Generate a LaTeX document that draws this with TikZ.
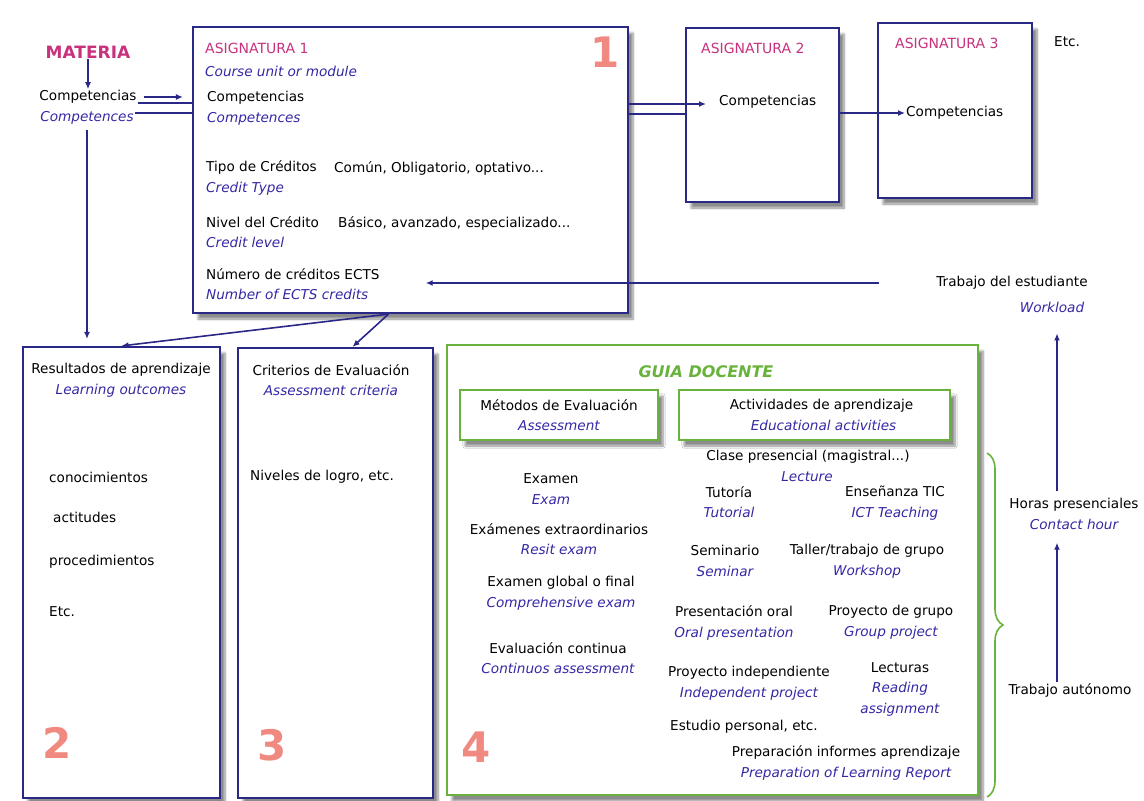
\documentclass[tikz,border=0pt]{standalone}
\usepackage{fontspec}
\setmainfont{DejaVu Sans}
\usepackage{xcolor}
\usetikzlibrary{arrows, arrows.meta}
\usetikzlibrary{calc}
\usetikzlibrary{shadows, shadows.blur}
\usetikzlibrary{decorations, decorations.pathreplacing}

\definecolor{navy}{RGB}{42,40,135}
\definecolor{engblue}{RGB}{52,40,165}
\definecolor{rosa}{RGB}{200,50,125}
\definecolor{numcol}{RGB}{240,138,128}
\definecolor{verde}{RGB}{105,178,60}

\newcommand{\engl}[1]{{\color{engblue}\itshape #1}}

\tikzset{
  caja/.style={draw=navy, line width=2.2pt, fill=white,
    blur shadow={shadow xshift=5pt, shadow yshift=-6pt, shadow blur steps=8, shadow opacity=45}},
  cajav/.style={caja, draw=verde},
  txt/.style={font=\fontsize{13.6}{20.5}\selectfont, inner sep=1pt, align=center},
  izq/.style={txt, align=left, anchor=west},
  tit/.style={text=rosa, font=\fontsize{14}{16}\selectfont, inner sep=1pt, anchor=west},
  num/.style={text=numcol, font=\fontsize{42}{42}\selectfont\bfseries, inner sep=0pt},
  flow/.style={draw=navy, line width=1.6pt, -{Latex[length=7pt, width=6pt]}},
  link/.style={draw=navy, line width=1.6pt},
  llave/.style={draw=verde, line width=1.6pt, decorate, decoration={brace, amplitude=16pt}}
}

\begin{document}
\begin{tikzpicture}[x=1pt, y=-1pt]
    \useasboundingbox (0,0) rectangle (1144,801);

    \node[caja, minimum width=435pt, minimum height=286pt] (asig1) at (410.5,170) {};
    \node[caja, minimum width=153pt, minimum height=174pt] (asig2) at (762.5,115) {};
    \node[caja, minimum width=154pt, minimum height=175pt] (asig3) at (955,110.5) {};
    \node[caja, minimum width=197pt, minimum height=451pt] (resul) at (121.5,572.5) {};
    \node[caja, minimum width=195pt, minimum height=450pt] (crit) at (335.5,573) {};
    \node[cajav, minimum width=531pt, minimum height=450pt] (guia) at (712.5,570) {};

    \node[tit, anchor=center, font=\fontsize{17}{19}\selectfont\bfseries] (materia) at (88,52) {MATERIA};
    \node[txt] (comp0) at (88,97) {Competencias};
    \node[txt] (compe0) at (87,118) {\engl{Competences}};

    \node[tit] (asigt1) at (204,48) {ASIGNATURA 1};
    \node[izq] (course) at (204,71) {\engl{Course unit or module}};
    \node[izq] (comp1) at (206,108) {Competencias\\\engl{Competences}};
    \node[izq] (tipo) at (205,178) {Tipo de Créditos\\\engl{Credit Type}};
    \node[izq] (tipov) at (333,168) {Común, Obligatorio, optativo...};
    \node[izq] (nivel) at (205,232) {Nivel del Crédito\\\engl{Credit level}};
    \node[izq] (nivelv) at (337,223) {Básico, avanzado, especializado...};
    \node[izq] (ects) at (205,284) {Número de créditos ECTS\\\engl{Number of ECTS credits}};
    \node[num] (num1) at (605,52) {1};

    \node[tit] (asigt2) at (700,48) {ASIGNATURA 2};
    \node[izq] (comp2) at (718,102) {Competencias};
    \node[tit] (asigt3) at (894,43) {ASIGNATURA 3};
    \node[izq] (comp3) at (905,113) {Competencias};
    \node[izq] (etc) at (1053,42) {Etc.};

    \node[txt] (resulT) at (121,380) {Resultados de aprendizaje\\\engl{Learning outcomes}};
    \node[izq] (cono) at (48,477) {conocimientos};
    \node[izq] (acti) at (52,517) {actitudes};
    \node[izq] (proc) at (48,562) {procedimientos};
    \node[izq] (etcR) at (48,612) {Etc.};
    \node[num] (num2) at (57,743) {2};

    \node[txt] (critT) at (331,380) {Criterios de Evaluación\\\engl{Assessment criteria}};
    \node[izq] (logro) at (249,477) {Niveles de logro, etc.};
    \node[num] (num3) at (272,745) {3};

    \node[txt, text=verde, font=\fontsize{16}{18}\selectfont\bfseries\itshape] (guiaT) at (706,372) {GUIA DOCENTE};
    \node[cajav, txt, line width=2pt, minimum width=198pt, minimum height=50pt] (metodos) at (559,415) {Métodos de Evaluación\\\engl{Assessment}};
    \node[cajav, txt, line width=2pt, minimum width=271pt, minimum height=50pt] (activ) at (814.5,415) {\hspace*{14pt}Actividades de aprendizaje\\\hspace*{18pt}\engl{Educational activities}};

    \node[txt] (examen) at (551,489) {Examen\\\engl{Exam}};
    \node[txt] (extra) at (559,539) {Exámenes extraordinarios\\\engl{Resit exam}};
    \node[txt] (global) at (561,593) {Examen global o final\\\engl{Comprehensive exam}};
    \node[txt] (continua) at (558,658) {Evaluación continua\\\engl{Continuos assessment}};
    \node[num] (num4) at (476,747) {4};

    \node[txt] (clase) at (808,457) {Clase presencial (magistral...)};
    \node[txt] (lecture) at (807,477) {\engl{Lecture}};
    \node[txt] (tutoria) at (729,502) {Tutoría\\\engl{Tutorial}};
    \node[txt] (tic) at (895,503) {Enseñanza TIC\\\engl{ICT Teaching}};
    \node[txt] (seminario) at (725,561) {Seminario\\\engl{Seminar}};
    \node[txt] (taller) at (867,561) {Taller/trabajo de grupo\\\engl{Workshop}};
    \node[txt] (oral) at (734,623) {Presentación oral\\\engl{Oral presentation}};
    \node[txt] (grupo) at (891,622) {Proyecto de grupo\\\engl{Group project}};
    \node[txt] (indep) at (749,683) {Proyecto independiente\\\engl{Independent project}};
    \node[txt] (lecturas) at (900,689) {Lecturas\\\engl{Reading}\\\engl{assignment}};
    \node[txt] (estudio) at (744,727) {Estudio personal, etc.};
    \node[txt] (prep) at (846,763) {Preparación informes aprendizaje\\\engl{Preparation of Learning Report}};

    \node[txt] (trab) at (1012,283) {Trabajo del estudiante};
    \node[txt] (wl) at (1052,307) {\engl{Workload}};
    \node[txt] (horas) at (1074,514) {Horas presenciales\\\engl{Contact hour}};
    \node[txt] (auto) at (1070,690) {Trabajo autónomo};

    \coordinate (split) at ([xshift=-22pt]asig1.south);
    \coordinate (bt) at (987,453);
    \coordinate (bb) at (987,797);

    \draw[flow] (materia) -- (comp0);
    \draw[flow, shorten <=6pt, shorten >=9pt] (comp0.east) -- (comp0.east -| asig1.west);
    \draw[link] ([yshift=-6pt]comp0.east) -- ([yshift=-6pt]comp0.east -| asig1.west);
    \draw[link] ([yshift=5pt]compe0.east) -- ([yshift=5pt]compe0.east -| asig1.west);
    \draw[flow, shorten <=4pt, shorten >=7pt] (compe0.south) -- (compe0.south |- resul.north);
    \draw[flow] (split) -- (resul.north);
    \draw[flow] (split) -- ([xshift=17pt]crit.north);
    \draw[flow, shorten >=12pt] ([yshift=-2pt]comp2.west -| asig1.east) -- ([yshift=-2pt]comp2.west);
    \draw[link] ([yshift=-12pt]comp2.west -| asig1.east) -- ([yshift=-12pt]comp2.west -| asig2.west);
    \draw[flow] (comp3.west -| asig2.east) -- (comp3.west);
    \draw[flow, shorten <=56pt, shorten >=45pt] (trab.west) -- (trab.west -| ects.east);
    \draw[flow, shorten <=6pt, shorten >=20pt] ([xshift=-17pt]horas.north) -- ([xshift=-17pt]horas.north |- wl.south);
    \draw[flow, shorten >=12pt] ([xshift=-13pt]auto.north) -- ([xshift=-13pt]auto.north |- horas.south);
    \draw[llave] (bt) -- (bb);
\end{tikzpicture}
\end{document}
